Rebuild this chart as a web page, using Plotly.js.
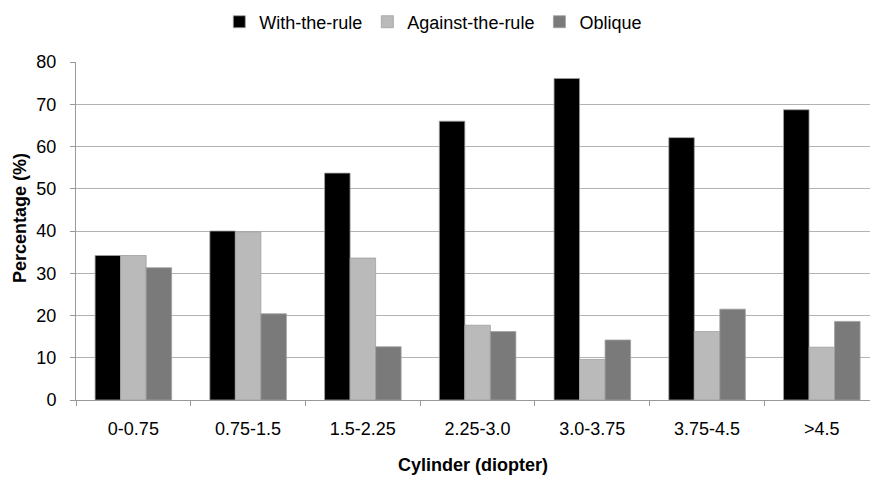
<!DOCTYPE html>
<html><head><meta charset="utf-8">
<script src="https://cdn.plot.ly/plotly-3.0.1.min.js"></script>
<style>html,body{margin:0;padding:0;background:#fff;overflow:hidden}</style>
</head><body><div id="chart" style="width:870px;height:479px"></div>
<script>
const categories = ["0-0.75","0.75-1.5","1.5-2.25","2.25-3.0","3.0-3.75","3.75-4.5",">4.5"];
const withTheRule = [34.2, 40.0, 53.7, 66.0, 76.1, 62.1, 68.7];
const againstTheRule = [34.2, 39.8, 33.6, 17.7, 9.6, 16.2, 12.5];
const oblique = [31.3, 20.4, 12.6, 16.2, 14.2, 21.5, 18.6];
const seriesNames = ["With-the-rule","Against-the-rule","Oblique"];
const colors = ["#000000","#bababa","#7a7a7a"];

const fam = "Liberation Sans, Arial, sans-serif";
const traces = [withTheRule, againstTheRule, oblique].map((v,i)=>({
  type:"bar", x:categories, y:v, name:seriesNames[i],
  marker:{color:colors[i], line:{color:"#a0a0a0", width:0.8}},
  hoverinfo:"none"
}));
const layout = {
  width:870, height:479,
  margin:{l:76, r:0, t:62, b:79},
  paper_bgcolor:"#fff", plot_bgcolor:"#fff",
  font:{family:fam, size:18, color:"#000"},
  barmode:"group", bargap:0.333, bargroupgap:0,
  showlegend:true,
  legend:{orientation:"h", x:0.45, xanchor:"center", yref:"container", y:0.954, yanchor:"middle",
          font:{family:fam, size:18, color:"#000"}, itemwidth:30, tracegroupgap:0},
  xaxis:{type:"category", range:[-0.5, 6.42], tickson:"boundaries", ticks:"outside", ticklen:5,
         tickcolor:"#999", showline:true, linecolor:"#999", linewidth:1, showgrid:false,
         tickfont:{family:fam, size:18, color:"#000"}, ticklabelstandoff:12,
         title:{text:"<b>Cylinder (diopter)</b>", font:{family:fam, size:18, color:"#000"}, standoff:20}},
  yaxis:{range:[0,80], dtick:10, ticks:"outside", ticklen:5, tickcolor:"#999",
         showline:true, linecolor:"#999", linewidth:1, showgrid:true, gridcolor:"#b3b3b3", gridwidth:1,
         zeroline:false, tickfont:{family:fam, size:18, color:"#000"},
         title:{text:"<b>Percentage (%)</b>", font:{family:fam, size:18, color:"#000"}, standoff:6}}
};
Plotly.newPlot("chart", traces, layout, {staticPlot:true, displayModeBar:false}).then(()=>{
  // shift y tick labels left to match reference spacing
  document.querySelectorAll('.ytick text').forEach(t=>{
    const x = parseFloat(t.getAttribute('x')||0);
    t.setAttribute('x', x - 10);
  });
  const yt = document.querySelector('.g-ytitle text');
  if (yt) {
    yt.setAttribute('x', 26); yt.setAttribute('y', 218);
    yt.setAttribute('transform', 'rotate(-90,26,218)');
  }
});
</script></body></html>
